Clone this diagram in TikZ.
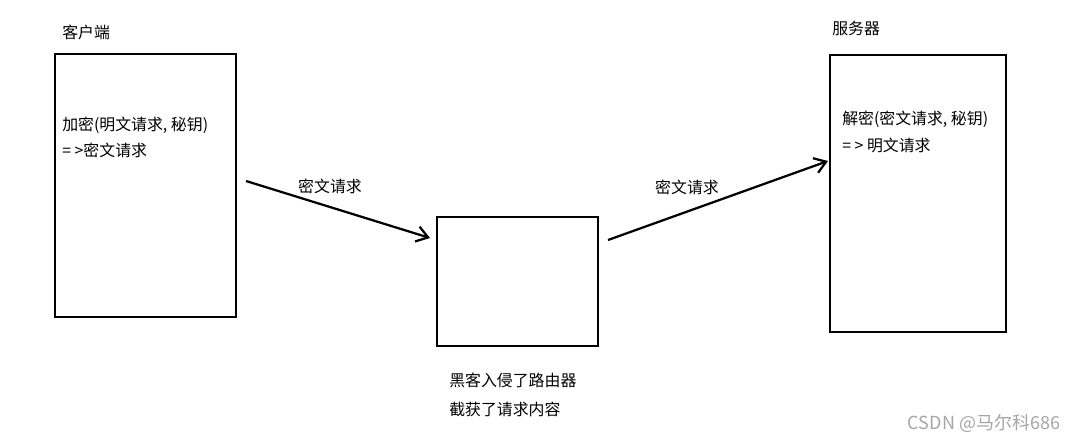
\documentclass[tikz,border=0pt]{standalone}
\usepackage{fontspec}
\setmainfont{Noto Sans CJK SC}
\usetikzlibrary{arrows.meta,calc}
\begin{document}
\begin{tikzpicture}[x=0.025cm,y=-0.025cm,
	box/.style={draw,line width=1.5pt,inner sep=0pt,outer sep=0pt},
	txt/.style={anchor=west,inner sep=0pt,font=\fontsize{11.3}{12}\selectfont},
	msg/.style={line width=1.6pt,-{Straight Barb[length=8pt,width=11pt,line width=1.6pt]}}]
	\useasboundingbox (0,0) rectangle (1074,441);
	% the three parties
	\node[box,minimum width=4.525cm,minimum height=6.575cm] (client) at (145.5,185.5) {};
	\node[box,minimum width=4.025cm,minimum height=3.225cm] (hop) at (517.5,281.5) {};
	\node[box,minimum width=4.4cm,minimum height=6.925cm] (server) at (918,193.5) {};
	\node[txt] (clientname) at (62,32) {客户端};
	\node[txt] (servername) at (832,28) {服务器};
	\node[txt] (enc) at (62,125) {加密(明文请求, 秘钥)};
	\node[txt] (encout) at (62,150) {= >密文请求};
	\node[txt] (dec) at (842,119) {解密(密文请求, 秘钥)};
	\node[txt] (decout) at (842,145) {= > 明文请求};
	\node[txt] (hack) at (449,380) {黑客入侵了路由器};
	\node[txt] (hackout) at (449,409) {截获了请求内容};
	% requests
	\draw[msg] ($(client.east)+(10,-4.5)$) -- ($(hop.west)+(-7,-43.5)$);
	\draw[msg] ($(hop.east)+(10,-41.5)$) -- ($(server.west)+(-2,-32.5)$);
	\node[txt,anchor=center] (req1) at (330,186) {密文请求};
	\node[txt,anchor=center] (req2) at (687,187) {密文请求};
	\node[txt,anchor=center,text=gray!70,font=\fontsize{12.8}{14}\selectfont] (mark) at (984,423) {CSDN @马尔科686};
\end{tikzpicture}
\end{document}
